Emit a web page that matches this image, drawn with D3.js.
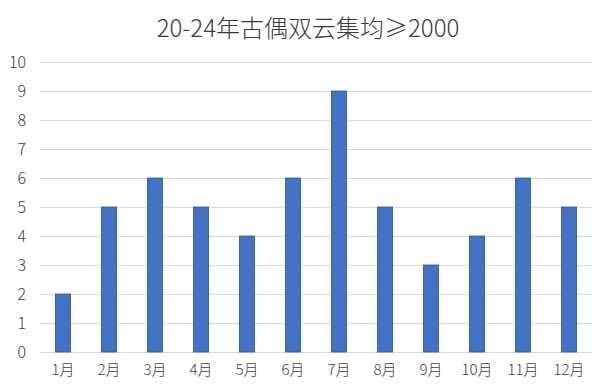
<!DOCTYPE html>
<html><head><meta charset="utf-8">
<script src="https://cdn.jsdelivr.net/npm/d3@7/dist/d3.min.js"></script>
<style>body{margin:0;background:#fff;}svg{display:block;}</style>
</head><body>
<svg id="c" width="600" height="386"></svg>
<script>
const title = "20-24年古偶双云集均≥2000";
const months = ["1月","2月","3月","4月","5月","6月","7月","8月","9月","10月","11月","12月"];
const counts = [2,5,6,5,4,6,9,5,3,4,6,5];
const yTicks = [0,1,2,3,4,5,6,7,8,9,10];

(function(){
const svg = d3.select("#c");
const font = "'Noto Sans CJK SC','Noto Sans',sans-serif";
const mL = 40, mR = 592, mT = 62, mB = 352;
const x = d3.scaleBand().domain(months).range([mL, mR]).paddingInner(0.67).paddingOuter(0.335);
const y = d3.scaleLinear().domain([0, 10]).range([mB, mT]);

svg.append("rect").attr("width",600).attr("height",386).attr("fill","#fff");

svg.append("text").attr("x", 308).attr("y", 37).attr("text-anchor","middle")
  .attr("font-family", font).attr("font-size", 24).attr("font-weight", 300)
  .attr("fill","#3a3a3a").text(title);

const ya = svg.append("g").attr("transform",`translate(${mL},0)`)
  .call(d3.axisLeft(y).tickValues(yTicks).tickSize(-(mR-mL)).tickPadding(14));
ya.select(".domain").remove();
ya.selectAll(".tick line").attr("stroke","#d9d9d9").attr("stroke-width",1);
ya.selectAll(".tick text").attr("font-family", font).attr("font-size", 16).attr("font-weight", 300).attr("fill","#404040");

svg.append("g").selectAll("rect").data(counts).join("rect")
  .attr("x",(d,i)=>x(months[i])).attr("width",x.bandwidth())
  .attr("y",d=>y(d)).attr("height",d=>y(0)-y(d))
  .attr("fill","#4472C4").attr("stroke","#2F5597").attr("stroke-width",0.8);

const xa = svg.append("g").attr("transform",`translate(0,${mB})`)
  .call(d3.axisBottom(x).tickSize(0).tickPadding(12));
xa.select(".domain").remove();
xa.selectAll(".tick text").attr("font-family", font).attr("font-size", 15).attr("font-weight", 300).attr("fill","#404040");
})();
</script>
</body></html>
